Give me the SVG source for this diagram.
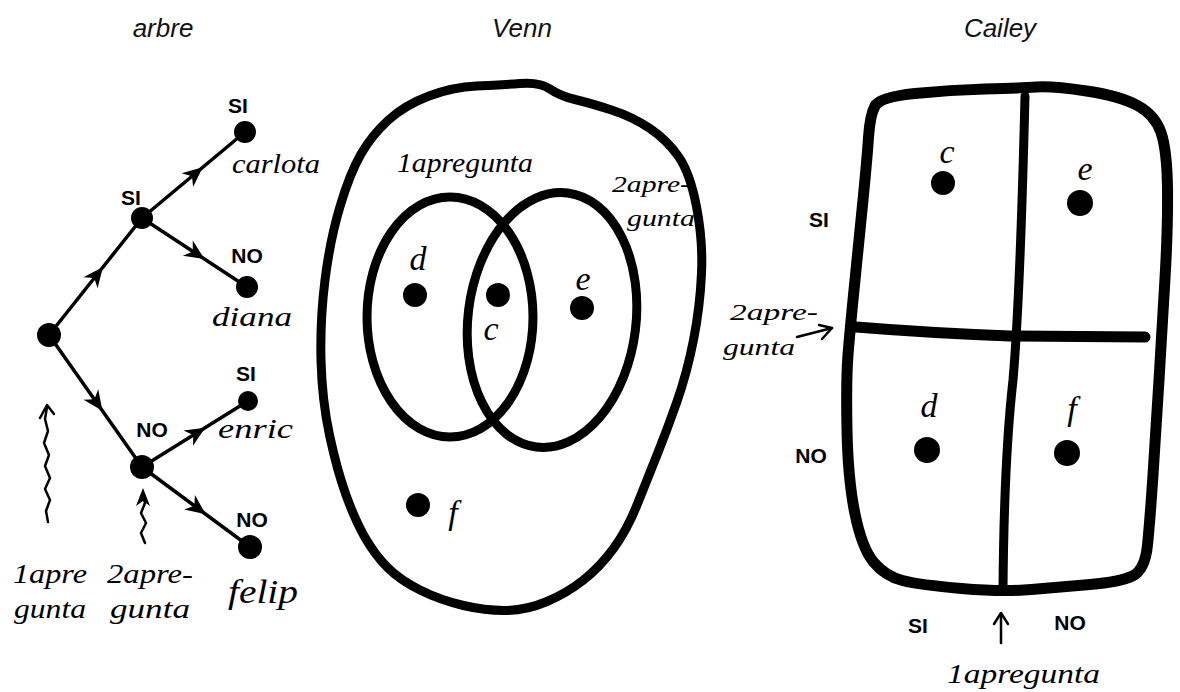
<svg xmlns="http://www.w3.org/2000/svg" width="1180" height="692" viewBox="0 0 1180 692">
<style>
.title{font-family:"Liberation Sans",Arial,sans-serif;font-style:italic;font-size:26px;fill:#111;text-anchor:middle}
.cap{font-family:"Liberation Sans",Arial,sans-serif;font-weight:bold;font-size:21px;fill:#000;text-anchor:middle}
.hand{font-family:"Liberation Serif","Times New Roman",serif;font-style:italic;font-size:28px;fill:#000}
.let{font-family:"Liberation Serif","Times New Roman",serif;font-style:italic;font-size:34px;fill:#000;text-anchor:middle}
.dot{fill:#000}
.edge{fill:none;stroke:#000;stroke-width:3.5;stroke-linecap:round}
.thick{fill:none;stroke:#000;stroke-width:9;stroke-linejoin:round;stroke-linecap:round}
.box{fill:none;stroke:#000;stroke-width:11;stroke-linejoin:round;stroke-linecap:round}
.thin{fill:none;stroke:#000;stroke-width:2.5;stroke-linecap:round;stroke-linejoin:round}
</style>
<defs>
<marker id="mid" markerUnits="userSpaceOnUse" markerWidth="40" markerHeight="40" viewBox="-20 -20 40 40" refX="-4" refY="0" orient="auto">
<path d="M8,0 L-12,-9 L-6,0 L-12,9 Z" fill="#000"/>
</marker>
</defs>

<text class="title" x="163" y="37">arbre</text>
<text class="title" x="522" y="37">Venn</text>
<text class="title" x="1000" y="37">Cailey</text>

<!-- Tree -->
<g id="connectors">
<path class="edge" d="M49 335 L95.5 276.5 L142 218" marker-mid="url(#mid)"/>
<path class="edge" d="M142 218 L193.5 175 L245 132" marker-mid="url(#mid)"/>
<path class="edge" d="M142 218 L194.5 252.5 L247 287" marker-mid="url(#mid)"/>
<path class="edge" d="M49 335 L95.5 401 L142 467" marker-mid="url(#mid)"/>
<path class="edge" d="M142 467 L195 434 L248 401" marker-mid="url(#mid)"/>
<path class="edge" d="M142 467 L196 507 L250 547" marker-mid="url(#mid)"/>
</g>

<g id="tree-root"><circle class="dot" cx="49" cy="335" r="12"/></g>
<g id="tree-si"><circle class="dot" cx="142" cy="218" r="11"/><text class="cap" x="131" y="205">SI</text></g>
<g id="tree-carlota"><circle class="dot" cx="245" cy="132" r="11"/><text class="cap" x="238" y="113">SI</text><text class="hand" x="232" y="173" textLength="88" lengthAdjust="spacingAndGlyphs">carlota</text></g>
<g id="tree-diana"><circle class="dot" cx="247" cy="287" r="11"/><text class="cap" x="247" y="263">NO</text><text class="hand" x="212" y="326" textLength="80" lengthAdjust="spacingAndGlyphs">diana</text></g>
<g id="tree-no"><circle class="dot" cx="142" cy="467" r="12"/><text class="cap" x="152" y="437">NO</text></g>
<g id="tree-enric"><circle class="dot" cx="248" cy="401" r="10"/><text class="cap" x="246" y="381">SI</text><text class="hand" x="218" y="438" textLength="75" lengthAdjust="spacingAndGlyphs">enric</text></g>
<g id="tree-felip"><circle class="dot" cx="250" cy="547" r="12"/><text class="cap" x="252" y="527">NO</text><text class="hand" x="228" y="603" style="font-size:34px" textLength="70" lengthAdjust="spacingAndGlyphs">felip</text></g>

<g id="tree-q1">
<path class="thin" d="M48 522 L46 511 L50 500 L45 489 L50 478 L45 466 L49 455 L44 443 L48 431 L45 419 L47 407"/>
<path class="thin" d="M40 418 L47 405 L54 414"/>
<text class="hand" x="13" y="583" textLength="74" lengthAdjust="spacingAndGlyphs">1apre</text>
<text class="hand" x="14" y="618" textLength="72" lengthAdjust="spacingAndGlyphs">gunta</text>
</g>
<g id="tree-q2">
<path class="thin" d="M145 543 L141 533 L146 523 L141 513 L145 503 L143 494"/>
<path d="M136 506 L143 488 L150 506 L143 501 Z" fill="#000"/>
<text class="hand" x="107" y="583" textLength="86" lengthAdjust="spacingAndGlyphs">2apre-</text>
<text class="hand" x="110" y="618" textLength="80" lengthAdjust="spacingAndGlyphs">gunta</text>
</g>

<!-- Venn -->
<g id="venn-universe">
<path class="thick" d="M 476.5 86 Q 500 85 520 83.5 Q 540 82 550 89 Q 560 96 575 99.5 Q 590 103 611.5 110 Q 633 117 650 128.5 Q 667 140 678.5 156.5 Q 690 173 696.5 206.5 Q 703 240 701.5 273.5 Q 700 307 693.5 340 Q 687 373 677 401.5 Q 667 430 657 455 Q 647 480 637 505 Q 627 530 613.5 548.5 Q 600 567 583.5 580 Q 567 593 547 601.5 Q 527 610 507 610.5 Q 487 611 463.5 605.5 Q 440 600 420 590 Q 400 580 387.5 567.5 Q 375 555 365 537.5 Q 355 520 346 495 Q 337 470 329.5 435 Q 322 400 321 360 Q 320 320 325 280 Q 330 240 340 206.5 Q 350 173 361 154 Q 372 135 388.5 120 Q 405 105 429 96 Q 453 87 476.5 86 Z"/>
</g>
<g id="venn-q1">
<ellipse class="thick" cx="450" cy="317" rx="83" ry="120"/>
<text class="hand" x="397" y="172" textLength="136" lengthAdjust="spacingAndGlyphs">1apregunta</text>
</g>
<g id="venn-q2">
<ellipse class="thick" cx="552" cy="320" rx="84" ry="128" transform="rotate(7 552 320)"/>
<text class="hand" x="612" y="192" style="font-size:24px" textLength="78" lengthAdjust="spacingAndGlyphs">2apre-</text>
<text class="hand" x="627" y="226" style="font-size:24px" textLength="68" lengthAdjust="spacingAndGlyphs">gunta</text>
</g>
<g id="venn-d"><circle class="dot" cx="415" cy="295" r="12"/><text class="let" x="418" y="270">d</text></g>
<g id="venn-c"><circle class="dot" cx="498" cy="295" r="12"/><text class="let" x="491" y="340">c</text></g>
<g id="venn-e"><circle class="dot" cx="582" cy="308" r="12"/><text class="let" x="583" y="290">e</text></g>
<g id="venn-f"><circle class="dot" cx="418" cy="505" r="12"/><text class="let" x="453" y="524">f</text></g>

<!-- Cailey -->
<g id="cailey-grid">
<path class="box" d="M 915 93.5 Q 950 90 985 89 Q 1020 88 1036.5 87 Q 1053 86 1086.5 91 Q 1120 96 1137.5 105.5 Q 1155 115 1161 132.5 Q 1167 150 1167.5 188.5 Q 1168 227 1165 278.5 Q 1162 330 1159 380 Q 1156 430 1153 475 Q 1150 520 1147.5 545 Q 1145 570 1132.5 576 Q 1120 582 1090 584.5 Q 1060 587 1031.5 589.5 Q 1003 592 961.5 588.5 Q 920 585 902.5 580.5 Q 885 576 873.5 562 Q 862 548 855 514 Q 848 480 847 430 Q 846 380 848 355 Q 850 330 854 290 Q 858 250 862.5 205 Q 867 160 868.5 137.5 Q 870 115 875 106 Q 880 97 915 93.5 Z"/>
<path class="thick" d="M1025 96 Q 1020 300 1013 380 Q 1004 460 1003 590"/>
<path class="box" d="M856 327 Q 930 333 1010 336 L1145 337"/>
</g>
<g id="cailey-c"><circle class="dot" cx="943" cy="183" r="12"/><text class="let" x="947" y="163">c</text></g>
<g id="cailey-e"><circle class="dot" cx="1080" cy="203" r="13"/><text class="let" x="1085" y="180">e</text></g>
<g id="cailey-d"><circle class="dot" cx="927" cy="450" r="13"/><text class="let" x="929" y="417">d</text></g>
<g id="cailey-f"><circle class="dot" cx="1067" cy="453" r="13"/><text class="let" x="1072" y="420">f</text></g>
<g id="cailey-labels">
<text class="cap" x="819" y="227">SI</text>
<text class="cap" x="811" y="463">NO</text>
<text class="hand" x="730" y="320" style="font-size:24px" textLength="88" lengthAdjust="spacingAndGlyphs">2apre-</text>
<text class="hand" x="723" y="355" style="font-size:24px" textLength="72" lengthAdjust="spacingAndGlyphs">gunta</text>
<path class="thin" d="M797 337 L832 328"/>
<path class="thin" d="M819 325 L832 328 L822 339"/>
<text class="cap" x="918" y="633">SI</text>
<path class="thin" d="M1001 643 L1001 614"/>
<path class="thin" d="M994 624 L1001 613 L1008 624"/>
<text class="cap" x="1070" y="630">NO</text>
<text class="hand" x="947" y="683" textLength="153" lengthAdjust="spacingAndGlyphs">1apregunta</text>
</g>
</svg>
